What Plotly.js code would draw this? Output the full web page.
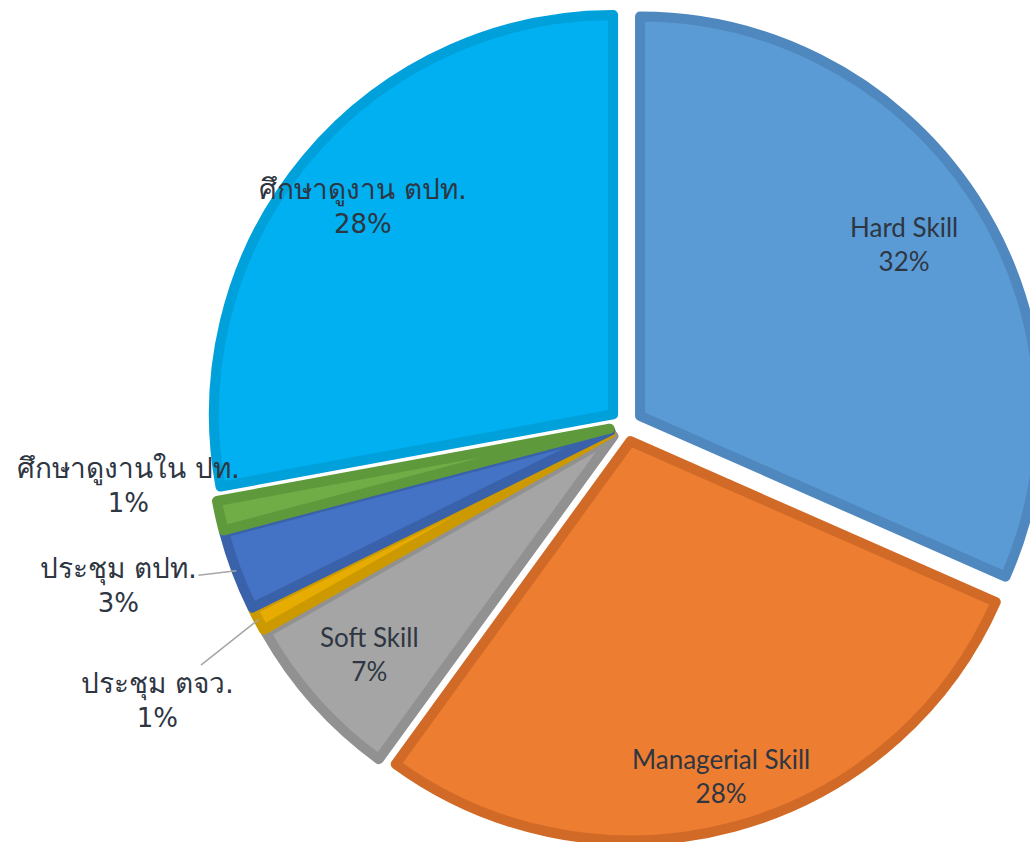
<!DOCTYPE html>
<html>
<head>
<meta charset="utf-8">
<script src="https://cdn.plot.ly/plotly-3.0.1.min.js"></script>
<style>
  html, body { margin: 0; padding: 0; background: #ffffff; overflow: hidden; }
  #chart { width: 1050px; height: 842px; }
</style>
</head>
<body>
<div id="chart"></div>
<script>
// Categories, clockwise from 12 o'clock
const categories = [
  "Hard Skill",
  "Managerial Skill",
  "Soft Skill",
  "ประชุม ตจว.",
  "ประชุม ตปท.",
  "ศึกษาดูงานใน ปท.",
  "ศึกษาดูงาน ตปท."
];
// Shares (percent)
const shares = [31.6, 28.4, 6.8, 0.9, 3.2, 1.2, 27.9];

// ---- styles (not data) ----
const fillColors   = ["#5B9BD5", "#ED7D31", "#A5A5A5", "#E6AC00", "#4472C4", "#70AD47", "#00B0F0"];
const borderColors = ["#4F88BE", "#D26A27", "#919191", "#CC9900", "#3A62AB", "#5E9A3B", "#00A0DA"];
// label placement: inside labels sit on the slice bisector at a fraction of the radius;
// outside labels are offset (px) from the slice rim, with an optional leader line
const labelInside  = [true, true, true, false, false, false, true];
const radialFrac   = [0.79, 0.87, 0.82, 1, 1, 1, 0.815];
const outsideShift = [null, null, null, [-101, 80], [-118, 14], [-92, -31], null];
const leaderLine   = [false, false, false, true, true, false, false];
const thaiLabel    = [false, false, false, true, true, true, true];

const W = 1050, H = 842;
const PULL = 0.042;
const domX = [210 / W, 1042 / W];
const domY = [1 / H, 833 / H];

const trace = {
  type: "pie",
  labels: categories,
  values: shares,
  sort: false,
  direction: "clockwise",
  rotation: 0,
  pull: PULL,
  marker: { colors: fillColors, line: { color: borderColors, width: 10 } },
  textinfo: "none",
  hoverinfo: "none",
  domain: { x: domX, y: domY }
};

// geometry exactly as Plotly lays out the pie in its domain
const boxW = W * (domX[1] - domX[0]);
const boxH = H * (domY[1] - domY[0]);
const R = Math.min(boxW, boxH) / 2 / (1 + PULL);
const cx = W * (domX[0] + domX[1]) / 2;
const cy = H * (1 - domY[0]) - boxH / 2;

const total = shares.reduce((a, b) => a + b, 0);
const annotations = [];
let cum = 0;
shares.forEach((v, i) => {
  const mid = (cum + v / 2) / total * 2 * Math.PI; // clockwise from 12 o'clock
  cum += v;
  const dx = Math.sin(mid), dy = -Math.cos(mid);
  const pct = Math.round(v / total * 100) + "%";
  const latinFont = { family: "Lato, 'Noto Sans', sans-serif", size: 26, color: "#2E3642" };
  const thaiFont  = { family: "'DejaVu Sans', sans-serif", size: 26, color: "#2E3642" };
  const font = thaiLabel[i] ? thaiFont : latinFont;
  const name = thaiLabel[i] ? '<span style="font-size:28px">' + categories[i] + '</span>' : categories[i];
  const text = name + "<br>" + pct;
  const rr = (PULL + radialFrac[i]) * R;
  const px = cx + dx * rr, py = cy + dy * rr;
  const ann = {
    xref: "paper", yref: "paper",
    x: px / W, y: 1 - py / H,
    xanchor: "center", yanchor: "middle",
    text: text, font: font, align: "center"
  };
  if (labelInside[i]) {
    ann.showarrow = false;
  } else {
    ann.showarrow = true;
    ann.ax = outsideShift[i][0];
    ann.ay = outsideShift[i][1];
    ann.arrowhead = 0;
    ann.arrowwidth = 1.5;
    ann.arrowcolor = leaderLine[i] ? "#A6A6A6" : "rgba(0,0,0,0)";
    ann.standoff = 0;
  }
  annotations.push(ann);
});

const layout = {
  width: W,
  height: H,
  margin: { l: 0, r: 0, t: 0, b: 0 },
  paper_bgcolor: "#ffffff",
  showlegend: false,
  annotations: annotations,
  font: { family: "Lato, 'Noto Sans', sans-serif" }
};

Plotly.newPlot("chart", [trace], layout, { staticPlot: true, displayModeBar: false });
</script>
</body>
</html>
